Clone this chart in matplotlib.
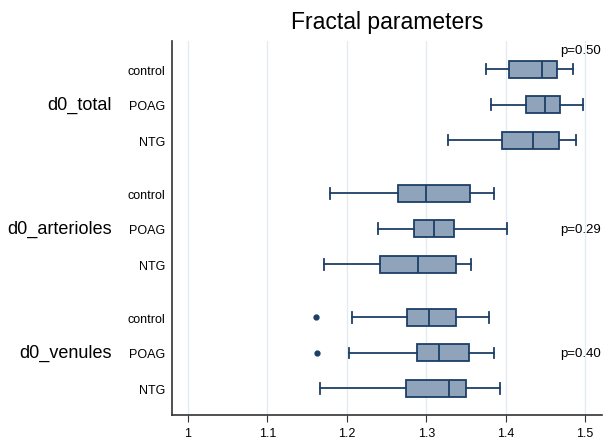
import matplotlib.pyplot as plt

plt.rcParams["font.family"] = ["Liberation Sans", "DejaVu Sans"]

groups = ["d0_total", "d0_arterioles", "d0_venules"]
categories = ["control", "POAG", "NTG"]

# per box: whisker low, q1, median, q3, whisker high
d0_total = [
    [1.375, 1.404, 1.446, 1.465, 1.485],
    [1.381, 1.426, 1.450, 1.469, 1.498],
    [1.327, 1.395, 1.434, 1.467, 1.489],
]
d0_arterioles = [
    [1.179, 1.264, 1.300, 1.355, 1.385],
    [1.239, 1.284, 1.310, 1.335, 1.402],
    [1.171, 1.242, 1.290, 1.337, 1.356],
]
d0_venules = [
    [1.207, 1.276, 1.304, 1.338, 1.379],
    [1.203, 1.288, 1.316, 1.354, 1.385],
    [1.166, 1.275, 1.329, 1.350, 1.393],
]
venule_outliers = [[1.161], [1.163], []]
p_values = ["p=0.50", "p=0.29", "p=0.40"]

fill = "#8fa3bb"
edge = "#1c3f66"

fig = plt.figure(figsize=(6.13, 4.39), dpi=100)
ax = fig.add_axes([0.2806, 0.0524, 0.7014, 0.8516])

stats = []
positions = []
for g, data in enumerate([d0_total, d0_arterioles, d0_venules]):
    for c, vals in enumerate(data):
        fl = venule_outliers[c] if g == 2 else []
        stats.append({"whislo": vals[0], "q1": vals[1], "med": vals[2],
                      "q3": vals[3], "whishi": vals[4], "fliers": fl})
        positions.append(1 + g * 3.5 + c)

ax.bxp(stats, positions=positions, orientation="horizontal", widths=0.48,
       patch_artist=True,
       boxprops=dict(facecolor=fill, edgecolor=edge, linewidth=1.3),
       medianprops=dict(color=edge, linewidth=1.3),
       whiskerprops=dict(color=edge, linewidth=1.3),
       capprops=dict(color=edge, linewidth=1.3),
       capwidths=0.3,
       flierprops=dict(marker="o", markersize=3.5, markerfacecolor=edge,
                       markeredgecolor=edge))

ax.set_xlim(0.9798, 1.5214)
ax.set_ylim(10.75, 0.21)
ax.set_xticks([1, 1.1, 1.2, 1.3, 1.4, 1.5])
ax.set_xticklabels(["1", "1.1", "1.2", "1.3", "1.4", "1.5"], fontsize=9)
ax.set_yticks(positions)
ax.set_yticklabels(categories * 3, fontsize=9)
ax.tick_params(axis="y", length=0, pad=5)
ax.tick_params(axis="x", length=5, color="#333333", pad=4)
ax.grid(axis="x", color="#e3ebf1", linewidth=1)
ax.set_axisbelow(True)
for s in ["top", "right"]:
    ax.spines[s].set_visible(False)
for s in ["left", "bottom"]:
    ax.spines[s].set_color("#333333")
    ax.spines[s].set_linewidth(1.2)

for g, name in enumerate(groups):
    fig.text(112 / 613, 1 - (105 + g * 124) / 439, name, ha="right",
             va="center", fontsize=13)

ax.text(1.52, 0.45, p_values[0], ha="right", va="center", fontsize=9.5)
ax.text(1.52, 5.5, p_values[1], ha="right", va="center", fontsize=9.5)
ax.text(1.52, 9.0, p_values[2], ha="right", va="center", fontsize=9.5)

fig.text(0.632, 1 - 22 / 439, "Fractal parameters", ha="center",
         va="center", fontsize=16.5)

fig.savefig("out.png", dpi=100)
